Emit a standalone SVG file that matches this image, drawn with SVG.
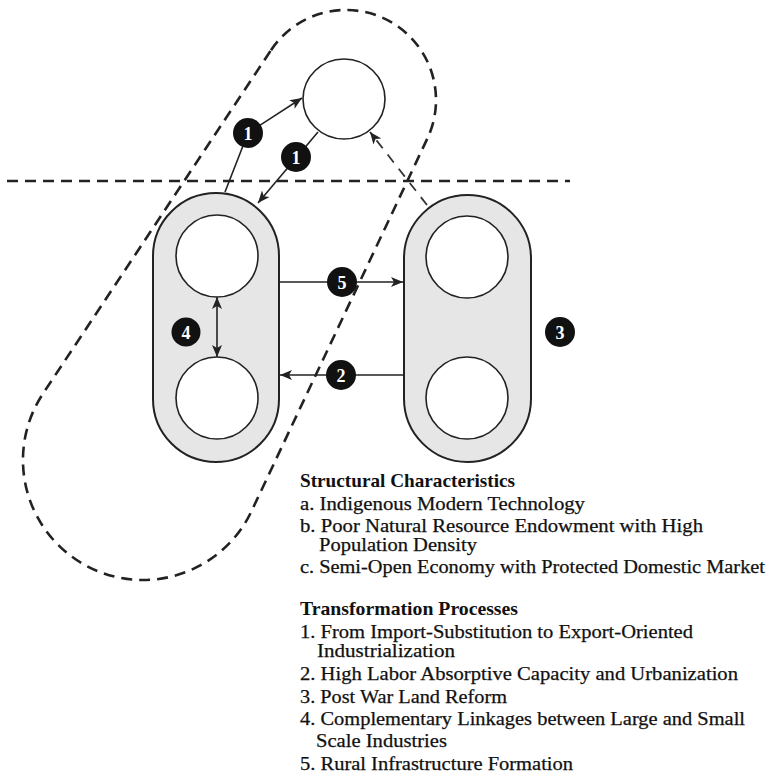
<svg xmlns="http://www.w3.org/2000/svg" width="772" height="777" viewBox="0 0 772 777">
<style>
.cap{fill:#e6e6e6;stroke:#222;stroke-width:2}
.in{fill:#fff;stroke:#222;stroke-width:1.6}
.ln{fill:none;stroke:#222;stroke-width:1.6}
.dl{fill:none;stroke:#222;stroke-width:2.6;stroke-dasharray:11 7}
.dd{fill:none;stroke:#333;stroke-width:1.8;stroke-dasharray:10 8}
.bd{fill:#111}
.bt{fill:#fff;font-family:"Liberation Serif",serif;font-size:18px;font-weight:bold;text-anchor:middle}
.tx{fill:#111;stroke:#111;stroke-width:0.25;font-family:"Liberation Serif",serif;font-size:19px}
.hd{fill:#111;font-family:"Liberation Serif",serif;font-size:19px;font-weight:bold}
</style>
<defs>
<marker id="ah" viewBox="0 0 12 10" refX="12" refY="5" markerWidth="13" markerHeight="10" markerUnits="userSpaceOnUse" orient="auto-start-reverse">
<path d="M0,0 L12,5 L0,10 L3,5 Z" fill="#222"/>
</marker>
</defs>
<rect width="772" height="777" fill="#fff"/>
<g id="boundaries">
<path class="dl" d="M271,50.2 A90,90 0 0 1 346,10 A90,90 0 0 1 427.4,138.4 L251.5,511.2 A120,120 0 0 1 143,580 A120,120 0 0 1 43,393.6 Z"/>
<line class="dl" x1="7" y1="181" x2="570" y2="181"/>
</g>
<g id="left-sector">
<rect class="cap" x="153" y="193" width="126" height="269" rx="63"/>
<circle class="in" cx="217" cy="256" r="41"/>
<circle class="in" cx="217" cy="398" r="41"/>
</g>
<g id="right-sector">
<rect class="cap" x="404" y="195" width="127" height="267" rx="63.5"/>
<circle class="in" cx="467" cy="257" r="41"/>
<circle class="in" cx="467" cy="398" r="41"/>
</g>
<g id="top-node">
<ellipse class="in" cx="344" cy="99" rx="41" ry="40"/>
</g>
<g id="connectors">
<path class="ln" d="M225,192 L248,133 L302,98" marker-end="url(#ah)"/>
<path class="ln" d="M318,132 L258,203" marker-end="url(#ah)"/>
<path class="ln" d="M279,282 L403,282" marker-end="url(#ah)"/>
<path class="ln" d="M404,375 L280,375" marker-end="url(#ah)"/>
<path class="ln" d="M217,297 L217,357" marker-start="url(#ah)" marker-end="url(#ah)"/>
<path class="dd" d="M427,205 L370,132" marker-end="url(#ah)"/>
</g>
<g id="badge-1a"><circle class="bd" cx="248" cy="133" r="15"/><text class="bt" x="248" y="139.5">1</text></g>
<g id="badge-1b"><circle class="bd" cx="296" cy="157" r="15"/><text class="bt" x="296" y="163.5">1</text></g>
<g id="badge-5"><circle class="bd" cx="342" cy="282" r="15"/><text class="bt" x="342" y="288.5">5</text></g>
<g id="badge-2"><circle class="bd" cx="341" cy="375" r="15"/><text class="bt" x="341" y="381.5">2</text></g>
<g id="badge-4"><circle class="bd" cx="186" cy="332" r="14.5"/><text class="bt" x="186" y="338.5">4</text></g>
<g id="badge-3"><circle class="bd" cx="560" cy="332" r="15"/><text class="bt" x="560" y="338.5">3</text></g>
<g id="legend">
<text class="hd" x="300" y="487" textLength="215" lengthAdjust="spacingAndGlyphs">Structural Characteristics</text>
<text class="tx" x="300" y="510" textLength="285" lengthAdjust="spacingAndGlyphs">a. Indigenous Modern Technology</text>
<text class="tx" x="300" y="532" textLength="403" lengthAdjust="spacingAndGlyphs">b. Poor Natural Resource Endowment with High</text>
<text class="tx" x="319" y="551" textLength="158" lengthAdjust="spacingAndGlyphs">Population Density</text>
<text class="tx" x="300" y="573" textLength="465" lengthAdjust="spacingAndGlyphs">c. Semi-Open Economy with Protected Domestic Market</text>
<text class="hd" x="300" y="615" textLength="218" lengthAdjust="spacingAndGlyphs">Transformation Processes</text>
<text class="tx" x="300" y="638" textLength="393" lengthAdjust="spacingAndGlyphs">1. From Import-Substitution to Export-Oriented</text>
<text class="tx" x="317" y="657" textLength="138" lengthAdjust="spacingAndGlyphs">Industrialization</text>
<text class="tx" x="300" y="680" textLength="438" lengthAdjust="spacingAndGlyphs">2. High Labor Absorptive Capacity and Urbanization</text>
<text class="tx" x="300" y="703" textLength="207" lengthAdjust="spacingAndGlyphs">3. Post War Land Reform</text>
<text class="tx" x="300" y="725" textLength="445" lengthAdjust="spacingAndGlyphs">4. Complementary Linkages between Large and Small</text>
<text class="tx" x="316" y="747" textLength="131" lengthAdjust="spacingAndGlyphs">Scale Industries</text>
<text class="tx" x="300" y="770" textLength="273" lengthAdjust="spacingAndGlyphs">5. Rural Infrastructure Formation</text>
</g>
</svg>
